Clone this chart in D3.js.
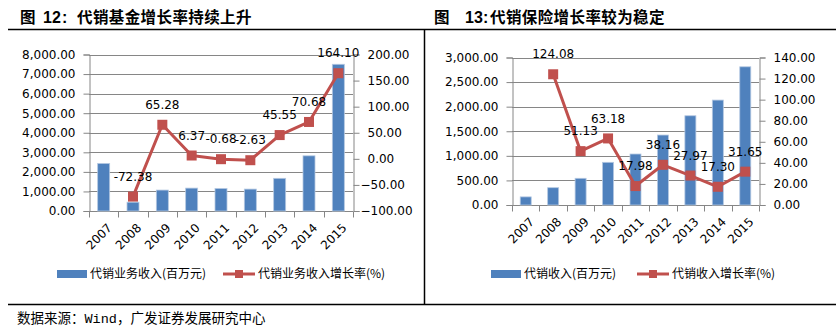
<!DOCTYPE html>
<html><head><meta charset="utf-8">
<script src="https://cdn.jsdelivr.net/npm/d3@7"></script>
<style>
html,body{margin:0;padding:0;background:#fff;}
svg{display:block;}
</style></head>
<body>
<script>
// ---------- data ----------
const years = ["2007","2008","2009","2010","2011","2012","2013","2014","2015"];
const fundRevenue = [2430, 450, 1070, 1170, 1150, 1120, 1670, 2820, 7500];
const fundGrowth = [null, -72.38, 65.28, 6.37, -0.68, -2.63, 45.55, 70.68, 164.10];
const insRevenue = [165, 352, 543, 868, 1037, 1423, 1815, 2134, 2811];
const insGrowth = [null, 124.08, 51.13, 63.18, 17.98, 38.16, 27.97, 17.30, 31.65];
const fundLeftTicks = [0,1000,2000,3000,4000,5000,6000,7000,8000];
const fundRightTicks = [-100,-50,0,50,100,150,200];
const insLeftTicks = [0,500,1000,1500,2000,2500,3000];
const insRightTicks = [0,20,40,60,80,100,120,140];
const titles = ["代销基金增长率持续上升", "代销保险增长率较为稳定"];
const figNums = ["12", "13"];
const legendFund = ["代销业务收入(百万元)", "代销业务收入增长率(%)"];
const legendIns = ["代销收入(百万元)", "代销收入增长率(%)"];
const sourceText = "数据来源：Wind，广发证券发展研究中心";

const BLUE = "#4F81BD", RED = "#C0504D", GRID = "#868686";
const fmt = d3.format(",.2f");

const svg = d3.select("body").append("svg").attr("width", 840).attr("height", 332);
svg.append("rect").attr("width", 840).attr("height", 332).attr("fill", "#fff");

// frame lines
svg.append("line").attr("x1", 8).attr("x2", 836).attr("y1", 29.5).attr("y2", 29.5).attr("stroke", "#000").attr("stroke-width", 1.5);
svg.append("line").attr("x1", 8).attr("x2", 836).attr("y1", 304.5).attr("y2", 304.5).attr("stroke", "#000").attr("stroke-width", 1.5);
svg.append("line").attr("x1", 424.5).attr("x2", 424.5).attr("y1", 29.5).attr("y2", 304.5).attr("stroke", "#000").attr("stroke-width", 1.5);

function title(x, xNum, xColon, xText, num, txt) {
  const t = svg.append("text").attr("y", 23).attr("font-family", "'Noto Sans CJK SC', sans-serif")
    .attr("font-weight", "bold").attr("font-size", 15.5).attr("fill", "#000");
  t.append("tspan").attr("x", x).text("图");
  t.append("tspan").attr("x", xNum).attr("font-family", "'Liberation Sans', Arial, sans-serif").attr("font-size", 16).text(num);
  t.append("tspan").attr("x", xColon).attr("font-family", "'Liberation Sans', Arial, sans-serif").attr("font-size", 16).text(":");
  t.append("tspan").attr("x", xText).attr("letter-spacing", 0.4).text(txt);
}
title(20, 43, 62, 77, figNums[0], titles[0]);
title(434, 465, 483, 490, figNums[1], titles[1]);

svg.append("text").attr("x", 17).attr("y", 323).attr("font-size", 13.5)
  .attr("font-family", "'Liberation Mono', 'Noto Sans CJK SC', monospace").attr("fill", "#000").text(sourceText);

function chart(cfg) {
  const g = svg.append("g");
  const x = d3.scaleBand().domain(years).range([cfg.x0, cfg.x1]);
  const yL = d3.scaleLinear().domain(cfg.leftDomain).range([cfg.y1, cfg.y0]);
  const yR = d3.scaleLinear().domain(cfg.rightDomain).range([cfg.y1, cfg.y0]);
  const font = "'DejaVu Sans', Verdana, sans-serif";

  // gridlines
  g.selectAll(".grid").data(cfg.leftTicks.filter(d => d !== cfg.leftDomain[0])).join("line")
    .attr("x1", cfg.x0).attr("x2", cfg.x1)
    .attr("y1", d => Math.round(yL(d)) + 0.5).attr("y2", d => Math.round(yL(d)) + 0.5)
    .attr("stroke", GRID).attr("stroke-width", 1);

  // left axis
  const la = g.append("g").attr("transform", `translate(${cfg.x0 + 0.5},0)`)
    .call(d3.axisLeft(yL).tickValues(cfg.leftTicks).tickSize(6).tickPadding(8).tickFormat(fmt));
  // right axis
  const ra = g.append("g").attr("transform", `translate(${cfg.x1 + 0.5},0)`)
    .call(d3.axisRight(yR).tickValues(cfg.rightTicks).tickSize(6).tickPadding(8).tickFormat(fmt));
  [la, ra].forEach(a => {
    a.select(".domain").attr("stroke", GRID);
    a.selectAll(".tick line").attr("stroke", GRID);
    a.selectAll(".tick text").attr("font-family", font).attr("font-size", 12).attr("fill", "#000");
  });
  ra.selectAll(".tick text").filter(d => d < 0).attr("dx", -7);

  // bottom axis
  const ba = g.append("g").attr("transform", `translate(0,${cfg.y1 + 0.5})`);
  ba.append("line").attr("x1", cfg.x0).attr("x2", cfg.x1).attr("stroke", GRID);
  const bounds = years.map(d => x(d)).concat([cfg.x1]);
  ba.selectAll(".tk").data(bounds).join("line")
    .attr("x1", d => Math.round(d) + 0.5).attr("x2", d => Math.round(d) + 0.5)
    .attr("y1", 0).attr("y2", 6).attr("stroke", GRID);
  ba.selectAll(".yl").data(years).join("text")
    .attr("transform", d => `translate(${x(d) + x.bandwidth() / 2 + 3},${cfg.labelTop - cfg.y1}) rotate(-45)`)
    .attr("text-anchor", "end").attr("dy", "0.72em")
    .attr("font-family", font).attr("font-size", 12).attr("fill", "#000").text(d => d);

  // bars
  g.selectAll(".bar").data(years).join("rect")
    .attr("x", (d, i) => x(d) + x.bandwidth() / 2 - cfg.barW / 2)
    .attr("width", cfg.barW)
    .attr("y", (d, i) => yL(cfg.bars[i]))
    .attr("height", (d, i) => yL(0) - yL(cfg.bars[i]))
    .attr("fill", BLUE).attr("stroke", "#b4c8e2").attr("stroke-width", 0.8);

  // line
  const pts = years.map((d, i) => ({ k: d, v: cfg.line[i] })).filter(p => p.v !== null);
  const line = d3.line().x(p => x(p.k) + x.bandwidth() / 2).y(p => yR(p.v));
  g.append("path").datum(pts).attr("d", line).attr("fill", "none").attr("stroke", RED)
    .attr("stroke-width", 3).attr("stroke-linejoin", "round");
  g.selectAll(".mk").data(pts).join("rect")
    .attr("x", p => x(p.k) + x.bandwidth() / 2 - 5).attr("y", p => yR(p.v) - 5)
    .attr("width", 10).attr("height", 10).attr("fill", RED);
  g.selectAll(".lbl").data(pts).join("text")
    .attr("x", p => x(p.k) + x.bandwidth() / 2).attr("y", p => yR(p.v) - 20)
    .attr("dy", "0.35em").attr("text-anchor", "middle")
    .attr("font-family", font).attr("font-size", 12).attr("fill", "#000")
    .text(p => p.v.toFixed(2));

  // legend
  const lg = g.append("g").attr("font-family", "'Noto Sans CJK SC', sans-serif").attr("font-size", 12).attr("fill", "#000");
  lg.append("rect").attr("x", cfg.leg[0]).attr("y", 270).attr("width", 30).attr("height", 8).attr("fill", BLUE);
  lg.append("text").attr("x", cfg.leg[0] + 33).attr("y", 274).attr("dy", "0.35em").text(cfg.legText[0]);
  lg.append("line").attr("x1", cfg.leg[1]).attr("x2", cfg.leg[1] + 32).attr("y1", 274).attr("y2", 274)
    .attr("stroke", RED).attr("stroke-width", 3);
  lg.append("rect").attr("x", cfg.leg[1] + 12).attr("y", 270).attr("width", 8).attr("height", 8).attr("fill", RED);
  lg.append("text").attr("x", cfg.leg[1] + 35).attr("y", 274).attr("dy", "0.35em").text(cfg.legText[1]);
}

chart({
  x0: 89, x1: 353, y0: 54.5, y1: 211,
  leftDomain: [0, 8000], rightDomain: [-100, 200],
  leftTicks: fundLeftTicks, rightTicks: fundRightTicks,
  bars: fundRevenue, line: fundGrowth, barW: 12, labelTop: 222,
  leg: [57, 223], legText: legendFund
});
chart({
  x0: 512, x1: 759, y0: 57.5, y1: 205,
  leftDomain: [0, 3000], rightDomain: [0, 140],
  leftTicks: insLeftTicks, rightTicks: insRightTicks,
  bars: insRevenue, line: insGrowth, barW: 11, labelTop: 216,
  leg: [491, 637], legText: legendIns
});
</script>
</body></html>
